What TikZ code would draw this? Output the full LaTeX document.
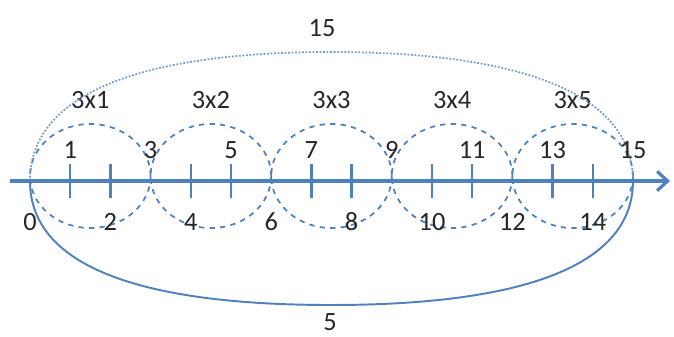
\documentclass[tikz,border=0pt]{standalone}
\usepackage{fontspec}
\setmainfont{Carlito}
\usetikzlibrary{arrows.meta}
\definecolor{lineblue}{RGB}{79,129,189}
\tikzset{
  numlabel/.style={font=\fontsize{15}{17}\selectfont, text=black!85, inner sep=1pt},
  tickmark/.style={lineblue, line width=1.3pt},
  groupring/.style={lineblue, dashed, line width=1pt},
  axisline/.style={lineblue, line width=1.8pt, -{Straight Barb[length=6pt, width=11pt]}},
  toparc/.style={lineblue!80, densely dotted, line width=1pt},
  bottomarc/.style={lineblue, line width=1.1pt},
}

\begin{document}
\begin{tikzpicture}[x=0.02cm, y=-0.02cm]
    \useasboundingbox (0,0) rectangle (674,336);
    % Punkte auf der Achse
    \coordinate (start) at (10,181);
    \coordinate (end) at (670,181);
    \foreach \k in {0,...,15} \coordinate (p\k) at ({30+40.2*\k},181);

    % Dreiergruppen
    \foreach \k in {1,...,5} {
        \draw[groupring] ({30+40.2*(3*\k-1.5)},176) ellipse [x radius=60.3, y radius=52];
        \node[numlabel] (g\k) at ({30+40.2*(3*\k-1.5)},100) {3x\k};
    }

    % Grosse Boegen
    \draw[toparc] (p0) .. controls (30,90) and (150,52) .. (331,52) .. controls (512,52) and (633,90) .. (p15);
    \draw[bottomarc] (p0) .. controls (30,270) and (150,305) .. (331,305) .. controls (512,305) and (633,270) .. (p15);
    \node[numlabel] (total) at (322,28) {15};
    \node[numlabel] (count) at (330,322) {5};

    % Zahlenstrahl
    \draw[axisline] (start) -- (end);
    \foreach \k in {1,2,4,5,7,8,10,11,13,14}
        \draw[tickmark] (p\k) ++(0,-17) -- ++(0,34);

    % Beschriftung
    \foreach \k in {1,3,...,15}
        \node[numlabel] (n\k) at ({30+40.2*\k},150) {\k};
    \foreach \k in {0,2,...,14}
        \node[numlabel] (n\k) at ({30+40.2*\k},222) {\k};
\end{tikzpicture}
\end{document}
